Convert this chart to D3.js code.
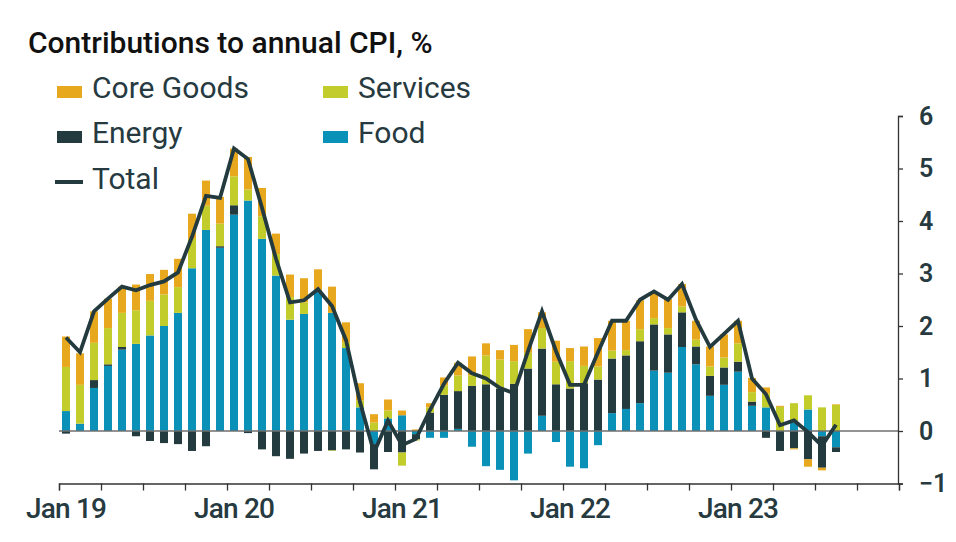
<!DOCTYPE html>
<html>
<head>
<meta charset="utf-8">
<script src="https://cdn.jsdelivr.net/npm/d3@7"></script>
<style>
  html, body { margin: 0; padding: 0; background: #ffffff; }
  svg { display: block; }
  text { font-family: Roboto, "Liberation Sans", Arial, sans-serif; }
</style>
</head>
<body>
<svg id="chart" width="956" height="542"></svg>
<script>
// ---------------- DATA ----------------
const months = [
  "2019-01","2019-02","2019-03","2019-04","2019-05","2019-06","2019-07","2019-08","2019-09","2019-10","2019-11","2019-12",
  "2020-01","2020-02","2020-03","2020-04","2020-05","2020-06","2020-07","2020-08","2020-09","2020-10","2020-11","2020-12",
  "2021-01","2021-02","2021-03","2021-04","2021-05","2021-06","2021-07","2021-08","2021-09","2021-10","2021-11","2021-12",
  "2022-01","2022-02","2022-03","2022-04","2022-05","2022-06","2022-07","2022-08","2022-09","2022-10","2022-11","2022-12",
  "2023-01","2023-02","2023-03","2023-04","2023-05","2023-06","2023-07","2023-08"
];
const axisExtraMonths = ["2023-09","2023-10","2023-11","2023-12"];

const food = [
  0.38,0.14,0.82,1.24,1.55,1.66,1.82,2.00,2.25,3.10,3.83,3.49,
  4.12,4.39,3.66,2.96,2.12,2.23,2.68,2.25,1.58,0.45,-0.25,0.24,
  0.30,-0.06,-0.13,-0.13,0.04,-0.30,-0.67,-0.74,-0.94,-0.43,0.29,-0.21,
  -0.68,-0.71,-0.27,0.34,0.42,0.53,1.15,1.11,1.60,1.27,0.67,0.88,
  1.13,0.48,0.45,0.00,0.16,0.41,-0.10,-0.31
];
const energy = [
  -0.05,0.00,0.15,0.03,0.05,-0.10,-0.19,-0.23,-0.25,-0.38,-0.29,0.03,
  0.18,-0.04,-0.35,-0.48,-0.53,-0.43,-0.38,-0.37,-0.35,-0.41,-0.48,-0.40,
  -0.41,-0.10,0.35,0.69,0.72,0.86,0.89,0.81,0.90,1.19,1.28,0.89,
  0.81,0.91,0.98,1.04,1.02,1.18,0.88,0.73,0.66,0.34,0.38,0.33,
  0.19,0.08,-0.13,-0.38,-0.33,-0.54,-0.60,-0.09
];
const services = [
  0.84,0.74,0.71,0.69,0.65,0.64,0.66,0.60,0.49,0.56,0.46,0.43,
  0.55,0.21,0.43,0.41,0.43,0.22,0.01,-0.01,0.11,0.13,0.16,0.15,
  -0.25,-0.02,0.10,0.18,0.30,0.20,0.55,0.55,0.43,0.30,0.39,0.43,
  0.52,0.33,0.25,0.15,0.10,0.23,0.12,0.12,0.11,0.13,0.18,0.19,
  0.35,0.18,0.27,0.46,0.37,0.27,0.45,0.50
];
const coreGoods = [
  0.58,0.60,0.60,0.56,0.50,0.49,0.51,0.47,0.54,0.48,0.48,0.51,
  0.53,0.62,0.54,0.39,0.43,0.46,0.39,0.50,0.38,0.33,0.16,0.21,
  0.09,0.03,0.08,0.15,0.24,0.36,0.23,0.18,0.31,0.45,0.30,0.40,
  0.25,0.37,0.54,0.57,0.56,0.55,0.49,0.55,0.43,0.36,0.38,0.44,
  0.43,0.27,0.11,0.02,-0.02,-0.14,-0.05,0.01
];
const total = [
  1.78,1.50,2.28,2.52,2.75,2.68,2.78,2.85,3.02,3.70,4.48,4.44,
  5.38,5.18,4.25,3.28,2.45,2.49,2.70,2.38,1.73,0.55,-0.41,0.20,
  -0.27,-0.15,0.40,0.90,1.30,1.10,1.00,0.82,0.72,1.52,2.28,1.52,
  0.88,0.88,1.50,2.10,2.10,2.50,2.66,2.50,2.80,2.12,1.60,1.85,
  2.10,1.00,0.70,0.11,0.20,-0.02,-0.28,0.12
];

const seriesKeys = ["food","energy","services","coreGoods"];
const seriesNames = {coreGoods:"Core Goods", services:"Services", energy:"Energy", food:"Food"};
const colors = {coreGoods:"#E8A81E", services:"#C2CC2A", energy:"#233A3E", food:"#0A91B8"};
const lineColor = "#233A3E";
const textColor = "#263A3F";

const yTicks = [-1,0,1,2,3,4,5,6];
const xTickLabels = ["Jan 19","Jan 20","Jan 21","Jan 22","Jan 23"];
const xTickMonths = ["2019-01","2020-01","2021-01","2022-01","2023-01"];

// ---------------- TABLE ----------------
const table = months.map((m, i) => ({
  month: m, food: food[i], energy: energy[i], services: services[i], coreGoods: coreGoods[i], total: total[i]
}));

// ---------------- LAYOUT ----------------
const svg = d3.select("#chart");
const plotLeft = 59, plotRight = 899, plotTop = 116, plotBottom = 483.5;

const allMonths = months.concat(axisExtraMonths);
const x = d3.scaleBand().domain(allMonths).range([plotLeft, plotRight])
  .paddingInner(0.43).paddingOuter(0.215);
const y = d3.scaleLinear().domain([-1, 6]).range([plotBottom, plotTop]);

// month-index linear scale for the quarterly boundary ticks
const xIdx = d3.scaleLinear().domain([0, allMonths.length]).range([plotLeft, plotRight]);

// bars
const stack = d3.stack().keys(seriesKeys).offset(d3.stackOffsetDiverging);
const stacked = stack(table);

svg.append("g").selectAll("g").data(stacked).join("g")
  .attr("fill", d => colors[d.key])
  .selectAll("rect").data(d => d).join("rect")
  .attr("x", d => x(d.data.month))
  .attr("width", x.bandwidth())
  .attr("y", d => y(Math.max(d[0], d[1])))
  .attr("height", d => Math.abs(y(d[0]) - y(d[1])));

// zero line
svg.append("line")
  .attr("x1", plotLeft).attr("x2", plotRight)
  .attr("y1", y(0)).attr("y2", y(0))
  .attr("stroke", "#6f6f6f").attr("stroke-width", 1.3);

// total line
const line = d3.line()
  .x(d => x(d.month) + x.bandwidth() / 2)
  .y(d => y(d.total));
svg.append("path").datum(table)
  .attr("d", line)
  .attr("fill", "none")
  .attr("stroke", lineColor)
  .attr("stroke-width", 3.8)
  .attr("stroke-linejoin", "miter");

// bottom axis (quarterly ticks)
const gx = svg.append("g").attr("transform", `translate(0,${plotBottom})`)
  .call(d3.axisBottom(xIdx)
    .tickValues(d3.range(0, allMonths.length + 1, 3))
    .tickSize(7).tickFormat(""));
gx.select(".domain").attr("stroke", "#333").attr("stroke-width", 1.3);
gx.selectAll(".tick line").attr("stroke", "#333").attr("stroke-width", 1.3);

// x labels centered on January bars
const labelScale = d3.scaleOrdinal().domain(xTickMonths).range(xTickLabels);
const gxl = svg.append("g").attr("transform", `translate(0,${plotBottom})`)
  .call(d3.axisBottom(x).tickValues(xTickMonths).tickSize(0).tickPadding(15)
    .tickFormat(d => labelScale(d)));
gxl.select(".domain").remove();
gxl.selectAll("text")
  .attr("font-size", 28).attr("fill", textColor)
  .attr("font-family", "Roboto, 'Liberation Sans', sans-serif")
  .attr("font-weight", 500)
  .attr("letter-spacing", -0.8);

// right y axis
const gy = svg.append("g").attr("transform", `translate(${plotRight - 1},0)`)
  .call(d3.axisRight(y).tickValues(yTicks).tickSize(5).tickPadding(16)
    .tickFormat(d3.format("d")));
gy.select(".domain").attr("stroke", "#333").attr("stroke-width", 1.3);
gy.selectAll(".tick line").attr("stroke", "#333").attr("stroke-width", 1.3);
gy.selectAll("text")
  .attr("font-size", 25).attr("fill", textColor)
  .attr("font-family", "Roboto, 'Liberation Sans', sans-serif")
  .attr("font-weight", 600);

// title
svg.append("text")
  .attr("x", 28).attr("y", 53)
  .attr("font-size", 30).attr("font-weight", 500).attr("fill", "#111")
  .text("Contributions to annual CPI, %");

// legend
const legendItems = [
  {key:"coreGoods", col:0, row:0},
  {key:"services", col:1, row:0},
  {key:"energy", col:0, row:1},
  {key:"food", col:1, row:1}
];
const colX = [57, 323], rowY = [98, 143];
const lg = svg.append("g");
legendItems.forEach(it => {
  const lx = colX[it.col], ly = rowY[it.row];
  lg.append("rect").attr("x", lx).attr("y", ly - 12).attr("width", 25).attr("height", 12)
    .attr("fill", colors[it.key]);
  lg.append("text").attr("x", lx + 35).attr("y", ly)
    .attr("font-size", 30).attr("fill", textColor)
    .text(seriesNames[it.key]);
});
lg.append("line").attr("x1", 55).attr("x2", 83).attr("y1", 182).attr("y2", 182)
  .attr("stroke", lineColor).attr("stroke-width", 4);
lg.append("text").attr("x", 92).attr("y", 189)
  .attr("font-size", 30).attr("fill", textColor).text("Total");
</script>
</body>
</html>
